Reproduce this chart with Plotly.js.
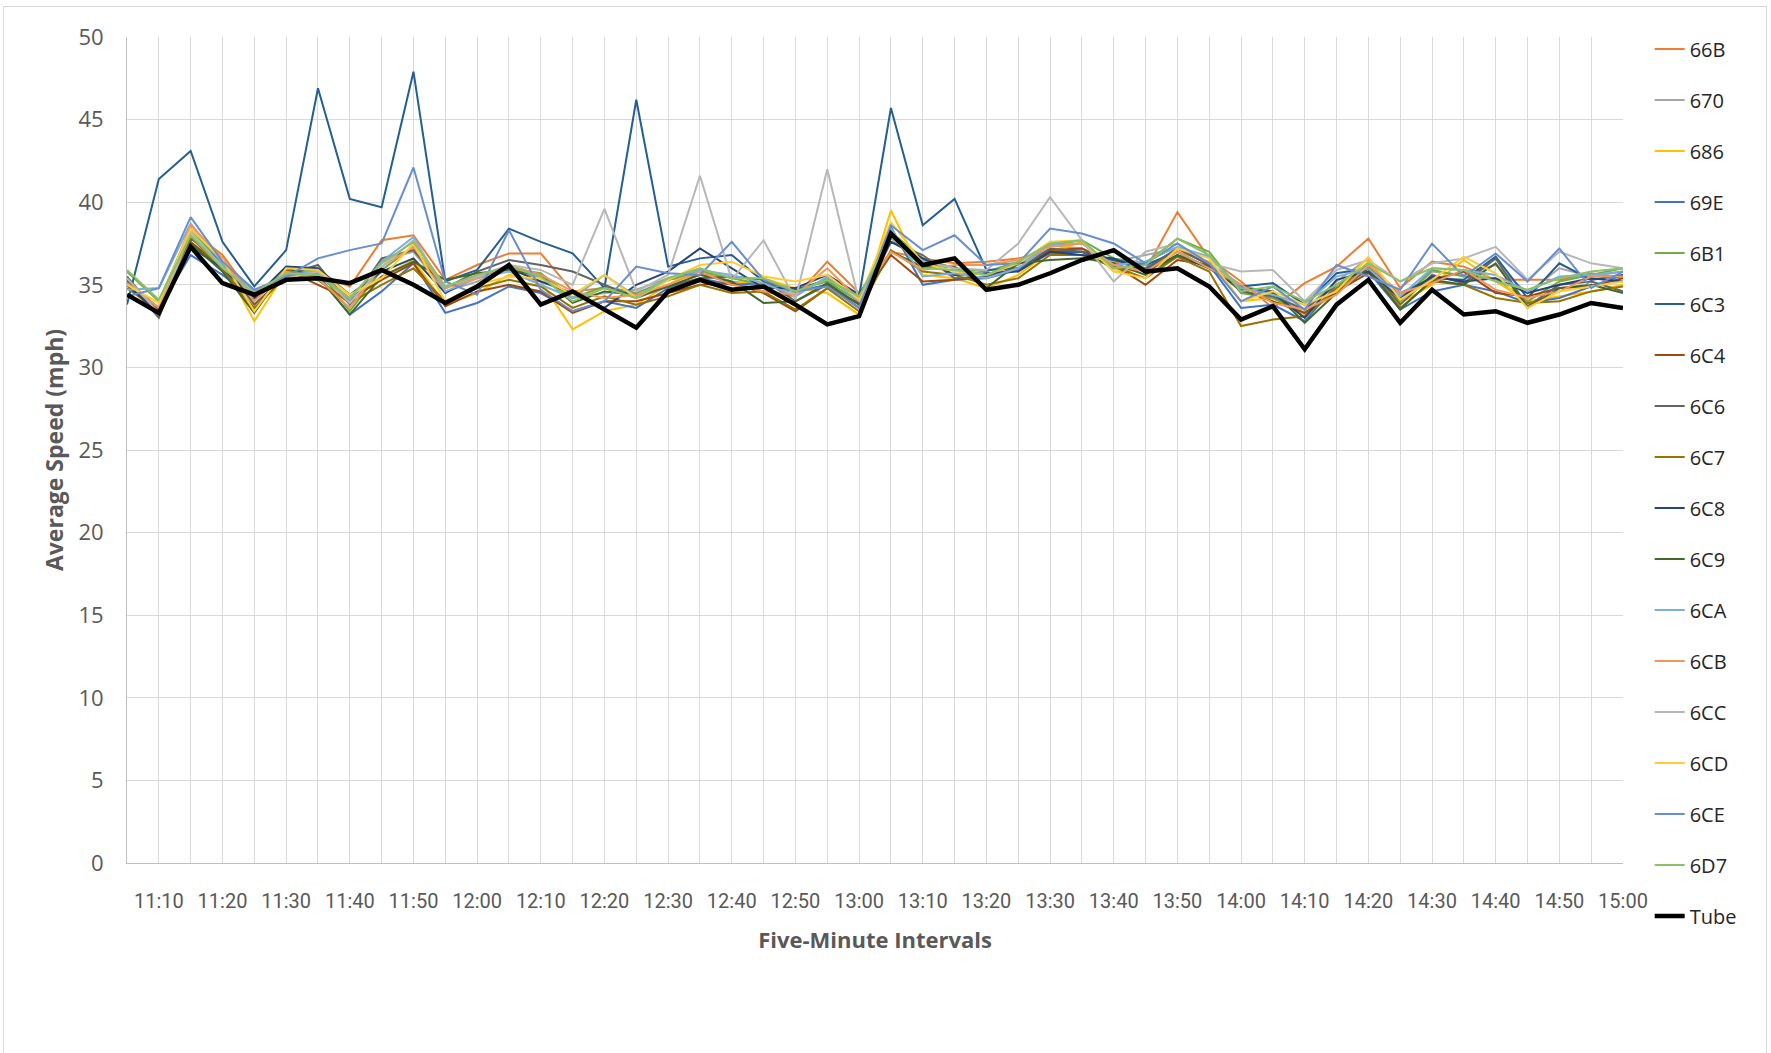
<!DOCTYPE html>
<html>
<head>
<meta charset="utf-8">
<script src="https://cdn.plot.ly/plotly-3.0.1.min.js"></script>
<style>
	html, body { margin: 0; padding: 0; background: #fff; }
	#frame {
		position: absolute; left: 3px; top: 6px; width: 1764px; height: 1060px;
		border: 1px solid #d9d9d9; box-sizing: border-box;
	}
	#graphic-speed { position: absolute; left: 0; top: 0; width: 1771px; height: 1053px; }
</style>
</head>
<body>
<div id="frame"></div>
<div id="graphic-speed"></div>
<script>
// five-minute intervals, 11:05 to 15:00
var times = ["11:05", "11:10", "11:15", "11:20", "11:25", "11:30", "11:35", "11:40", "11:45", "11:50",
	"11:55", "12:00", "12:05", "12:10", "12:15", "12:20", "12:25", "12:30", "12:35", "12:40",
	"12:45", "12:50", "12:55", "13:00", "13:05", "13:10", "13:15", "13:20", "13:25", "13:30",
	"13:35", "13:40", "13:45", "13:50", "13:55", "14:00", "14:05", "14:10", "14:15", "14:20",
	"14:25", "14:30", "14:35", "14:40", "14:45", "14:50", "14:55", "15:00"];

var s66B = [35.2, 33.6, 38.3, 36.8, 34.2, 35.6, 35.7, 34.9, 37.7, 38.0, 35.3, 36.2, 36.9, 36.9, 34.6, 34.8, 34.2, 35.3, 35.6, 35.2, 34.6, 34.3, 36.4, 34.5, 37.0, 36.6, 36.3, 36.4, 36.6, 37.0, 37.2, 36.4, 35.9, 39.4, 36.6, 35.2, 33.6, 35.1, 36.1, 37.8, 34.8, 36.4, 36.1, 35.3, 35.3, 35.3, 35.7, 35.4];
var s670 = [35.0, 33.2, 38.0, 36.2, 33.8, 35.5, 35.6, 34.0, 36.5, 37.0, 34.6, 35.2, 36.0, 35.4, 34.2, 34.5, 34.7, 35.4, 35.8, 35.2, 35.0, 34.5, 35.4, 34.2, 37.8, 36.5, 36.0, 35.6, 36.2, 37.4, 37.2, 36.4, 36.8, 37.2, 36.3, 35.0, 34.4, 33.5, 35.2, 36.6, 34.0, 35.8, 35.6, 36.2, 34.5, 36.0, 35.5, 35.8];
var s686 = [35.4, 33.4, 38.2, 36.4, 32.8, 35.8, 35.8, 34.2, 35.5, 36.5, 33.8, 34.5, 35.6, 35.2, 32.3, 33.4, 33.8, 35.0, 36.0, 35.0, 35.4, 34.8, 34.5, 33.2, 39.5, 35.6, 35.4, 34.8, 35.6, 37.0, 37.6, 35.8, 35.9, 37.0, 36.4, 34.0, 34.2, 33.2, 34.5, 36.4, 33.9, 35.0, 36.5, 35.2, 34.0, 34.3, 34.6, 35.0];
var s69E = [35.0, 33.6, 36.8, 35.6, 34.2, 35.5, 35.6, 33.2, 34.6, 36.3, 33.3, 33.9, 34.9, 34.5, 33.4, 34.0, 33.6, 34.8, 35.4, 35.0, 35.1, 34.6, 35.0, 33.8, 38.5, 35.0, 35.3, 35.4, 35.9, 36.9, 37.0, 36.5, 36.0, 37.2, 36.2, 33.6, 33.8, 32.8, 35.0, 35.8, 33.5, 34.6, 35.0, 34.6, 33.9, 34.2, 34.9, 35.6];
var s6B1 = [35.8, 34.0, 38.4, 36.2, 34.3, 35.8, 35.9, 33.4, 35.9, 37.3, 34.8, 35.5, 36.0, 35.7, 34.2, 34.9, 34.5, 35.3, 35.8, 35.4, 35.0, 34.7, 35.2, 34.0, 38.2, 36.6, 36.0, 35.8, 36.4, 37.4, 37.7, 36.6, 36.3, 37.8, 37.0, 34.5, 34.2, 33.3, 34.6, 36.0, 34.0, 35.9, 35.5, 35.4, 34.0, 35.2, 35.6, 36.0];
var s6C3 = [33.8, 41.4, 43.1, 37.6, 34.9, 37.1, 46.9, 40.2, 39.7, 47.9, 35.2, 35.9, 38.4, 37.6, 36.9, 34.8, 46.2, 36.1, 36.6, 36.8, 35.2, 34.7, 35.3, 34.3, 45.7, 38.6, 40.2, 35.9, 36.0, 37.0, 37.0, 36.5, 36.2, 37.0, 36.0, 34.9, 35.1, 33.8, 35.7, 36.0, 34.5, 35.4, 35.3, 36.7, 34.2, 36.3, 35.3, 35.6];
var s6C4 = [35.3, 33.5, 37.6, 36.0, 33.5, 35.9, 35.0, 34.1, 35.3, 36.3, 33.7, 34.6, 35.0, 34.6, 33.3, 34.0, 34.0, 34.5, 35.0, 35.1, 34.5, 33.4, 34.8, 33.9, 36.8, 35.2, 35.3, 35.5, 36.0, 37.1, 37.2, 36.2, 35.0, 36.5, 36.2, 34.7, 34.0, 33.3, 34.6, 35.7, 34.3, 35.3, 35.8, 34.5, 34.3, 34.8, 34.9, 35.4];
var s6C6 = [35.2, 33.0, 37.8, 36.4, 33.8, 35.6, 36.2, 33.8, 36.6, 37.1, 34.8, 35.8, 36.5, 36.2, 35.8, 35.0, 34.2, 34.9, 35.4, 35.5, 35.3, 34.0, 35.0, 33.6, 37.6, 36.8, 35.4, 35.5, 36.0, 37.2, 37.0, 36.0, 35.9, 37.2, 36.2, 34.6, 34.3, 33.5, 35.0, 36.2, 33.8, 35.6, 35.1, 36.6, 33.7, 35.0, 35.2, 34.6];
var s6C7 = [34.8, 33.4, 37.9, 35.9, 33.6, 35.5, 35.3, 33.9, 35.0, 36.0, 34.0, 34.8, 35.3, 34.9, 33.6, 34.3, 33.8, 34.3, 35.0, 34.5, 34.6, 33.5, 34.8, 33.4, 37.1, 35.8, 35.6, 35.0, 35.4, 36.8, 36.8, 36.1, 35.4, 36.7, 35.8, 32.5, 32.9, 33.1, 34.8, 36.1, 33.6, 35.2, 35.0, 34.2, 33.9, 34.0, 34.6, 34.9];
var s6C8 = [35.0, 33.3, 37.3, 36.0, 34.2, 36.1, 36.0, 34.4, 35.8, 36.6, 34.5, 35.5, 36.0, 35.2, 34.5, 33.6, 35.0, 35.8, 37.2, 36.0, 34.8, 34.8, 35.6, 34.4, 37.6, 36.6, 35.6, 35.7, 35.8, 37.0, 36.8, 36.6, 35.8, 36.8, 36.0, 34.8, 34.5, 33.0, 35.3, 35.8, 34.2, 35.5, 35.2, 35.4, 34.5, 35.0, 35.4, 35.2];
var s6C9 = [35.5, 33.2, 37.5, 35.8, 33.3, 36.0, 35.5, 33.2, 35.5, 36.4, 35.3, 35.7, 35.9, 35.6, 33.9, 34.6, 34.4, 34.9, 35.6, 35.2, 33.9, 34.0, 35.1, 33.8, 37.0, 36.1, 36.1, 34.8, 36.3, 36.5, 36.6, 36.3, 35.6, 36.8, 36.1, 34.8, 34.6, 32.7, 34.5, 36.0, 33.5, 35.3, 35.0, 36.3, 33.6, 34.8, 35.0, 34.5];
var s6CA = [34.7, 34.8, 38.7, 36.3, 34.6, 35.6, 35.8, 34.1, 36.4, 37.9, 34.6, 35.4, 35.8, 35.0, 34.2, 35.6, 34.3, 35.4, 35.9, 35.6, 35.1, 34.3, 35.5, 34.0, 38.4, 35.5, 35.7, 35.4, 36.0, 37.4, 37.5, 36.2, 36.4, 37.3, 36.7, 34.8, 34.4, 33.8, 35.5, 36.0, 34.3, 36.0, 35.9, 35.6, 34.6, 35.5, 35.6, 35.8];
var s6CB = [35.1, 33.6, 38.6, 36.6, 34.0, 35.8, 35.4, 33.6, 36.1, 37.3, 34.8, 35.4, 36.2, 35.6, 34.6, 34.2, 34.4, 35.0, 35.8, 35.0, 34.6, 34.4, 36.0, 34.1, 37.0, 35.9, 36.2, 36.2, 36.5, 37.3, 37.5, 36.2, 35.8, 37.0, 36.0, 35.0, 33.9, 33.5, 34.4, 36.2, 34.5, 35.1, 35.9, 34.7, 34.2, 34.6, 35.5, 35.5];
var s6CC = [35.4, 33.3, 38.2, 36.1, 34.4, 35.4, 35.8, 33.9, 36.1, 37.7, 34.9, 35.5, 36.2, 35.9, 35.0, 39.6, 34.6, 35.6, 41.6, 35.3, 37.7, 34.1, 42.0, 34.0, 38.2, 36.4, 36.0, 35.9, 37.5, 40.3, 37.7, 35.2, 37.0, 37.5, 36.3, 35.8, 35.9, 34.0, 35.9, 36.5, 35.2, 36.3, 36.6, 37.3, 35.3, 37.0, 36.3, 36.0];
var s6CD = [35.0, 33.9, 38.4, 36.5, 33.4, 36.0, 35.9, 34.4, 35.4, 37.5, 34.0, 35.0, 35.5, 35.4, 34.4, 35.6, 34.2, 35.3, 36.2, 36.4, 35.5, 35.2, 35.6, 34.1, 38.8, 36.3, 35.8, 35.6, 36.3, 37.6, 37.7, 35.8, 35.4, 37.2, 36.6, 34.0, 34.6, 33.8, 34.6, 36.7, 34.1, 35.3, 36.7, 35.7, 33.6, 34.6, 34.9, 35.2];
var s6CE = [34.3, 34.8, 39.1, 36.4, 34.7, 35.5, 36.6, 37.1, 37.5, 42.1, 35.2, 34.4, 38.3, 34.7, 33.4, 34.0, 36.1, 35.7, 35.6, 37.6, 35.3, 34.6, 34.9, 33.6, 38.6, 37.1, 38.0, 36.2, 36.3, 38.4, 38.1, 37.5, 36.3, 37.5, 36.3, 34.0, 34.9, 33.5, 36.2, 35.5, 34.7, 37.5, 35.5, 36.9, 35.2, 37.2, 34.8, 35.8];
var s6D7 = [35.9, 34.1, 38.0, 36.0, 34.5, 35.7, 35.6, 34.2, 36.3, 37.6, 34.9, 35.6, 36.1, 35.5, 34.0, 34.8, 34.2, 35.4, 36.0, 35.4, 35.4, 34.6, 35.3, 34.3, 38.0, 36.0, 35.9, 35.6, 36.4, 37.5, 37.7, 36.0, 36.2, 37.8, 36.8, 34.6, 34.9, 34.0, 35.0, 36.3, 35.2, 36.0, 35.9, 35.2, 34.7, 35.4, 35.8, 36.0];
var tube = [34.4, 33.3, 37.3, 35.1, 34.4, 35.3, 35.4, 35.1, 35.9, 35.0, 33.9, 34.9, 36.2, 33.8, 34.6, 33.5, 32.4, 34.6, 35.3, 34.7, 34.9, 33.8, 32.6, 33.1, 38.1, 36.2, 36.6, 34.7, 35.0, 35.7, 36.5, 37.1, 35.8, 36.0, 34.9, 32.9, 33.7, 31.1, 33.8, 35.3, 32.7, 34.7, 33.2, 33.4, 32.7, 33.2, 33.9, 33.6];

var seriesNames = ["66B", "670", "686", "69E", "6B1", "6C3", "6C4", "6C6", "6C7", "6C8", "6C9", "6CA", "6CB", "6CC", "6CD", "6CE", "6D7"];
var seriesValues = [s66B, s670, s686, s69E, s6B1, s6C3, s6C4, s6C6, s6C7, s6C8, s6C9, s6CA, s6CB, s6CC, s6CD, s6CE, s6D7];
var seriesColors = ["#ED7D31", "#A5A5A5", "#FFC000", "#4472C4", "#70AD47", "#255E91", "#9E480E", "#636363",
	"#997300", "#264478", "#43682B", "#7CAFDD", "#F1975A", "#B7B7B7", "#FFCD33", "#698ED0", "#8CC168"];

var data = [];
for (var i = 0; i < seriesNames.length; i++) {
	data.push({
		x: times,
		y: seriesValues[i],
		name: seriesNames[i],
		legendgroup: seriesNames[i],
		mode: "lines",
		type: "scatter",
		line: { color: seriesColors[i], width: 2 },
	});
}
data.push({
	x: times,
	y: tube,
	name: "Tube",
	legendgroup: "Tube",
	mode: "lines",
	type: "scatter",
	line: { color: "#000000", width: 4.5 },
});

var layout = {
	width: 1771,
	height: 1053,
	paper_bgcolor: "rgba(0,0,0,0)",
	plot_bgcolor: "#ffffff",
	margin: { l: 127, r: 148, t: 37, b: 190 },
	font: { family: "Open Sans, sans-serif", color: "#595959" },
	showlegend: true,
	legend: {
		xref: "container",
		yref: "container",
		x: 0.9315,
		y: 0.972,
		xanchor: "left",
		yanchor: "top",
		maxheight: 2000,
		traceorder: "grouped",
		tracegroupgap: 22,
		itemwidth: 30,
		font: { size: 20, color: "#262626" },
	},
	xaxis: {
		type: "category",
		range: [0, times.length - 1],
		tickmode: "array",
		tickvals: times,
		ticktext: times.map(function (t, i) { return i % 2 ? t : ""; }),
		tickfont: { family: "Roboto, sans-serif", size: 20, color: "#595959" },
		ticks: "",
		ticklabelstandoff: 20,
		showgrid: true,
		gridcolor: "#d9d9d9",
		gridwidth: 1,
		showline: true,
		linecolor: "#bfbfbf",
		zeroline: false,
		title: {
			text: "Five-Minute Intervals",
			font: { size: 22, color: "#595959", weight: "bold" },
			standoff: 20,
		},
	},
	yaxis: {
		range: [0, 50],
		dtick: 5,
		tickfont: { size: 22, color: "#595959" },
		ticks: "",
		ticklabelstandoff: 18,
		showgrid: true,
		gridcolor: "#d9d9d9",
		gridwidth: 1,
		showline: true,
		linecolor: "#bfbfbf",
		zeroline: false,
		title: {
			text: "Average Speed (mph)",
			font: { size: 23, color: "#595959", weight: "bold" },
			standoff: 8,
		},
	},
};

var config = {
	responsive: false,
	displayModeBar: false,
	displaylogo: false,
	staticPlot: true,
};

Plotly.newPlot("graphic-speed", data, layout, config);
</script>
</body>
</html>
